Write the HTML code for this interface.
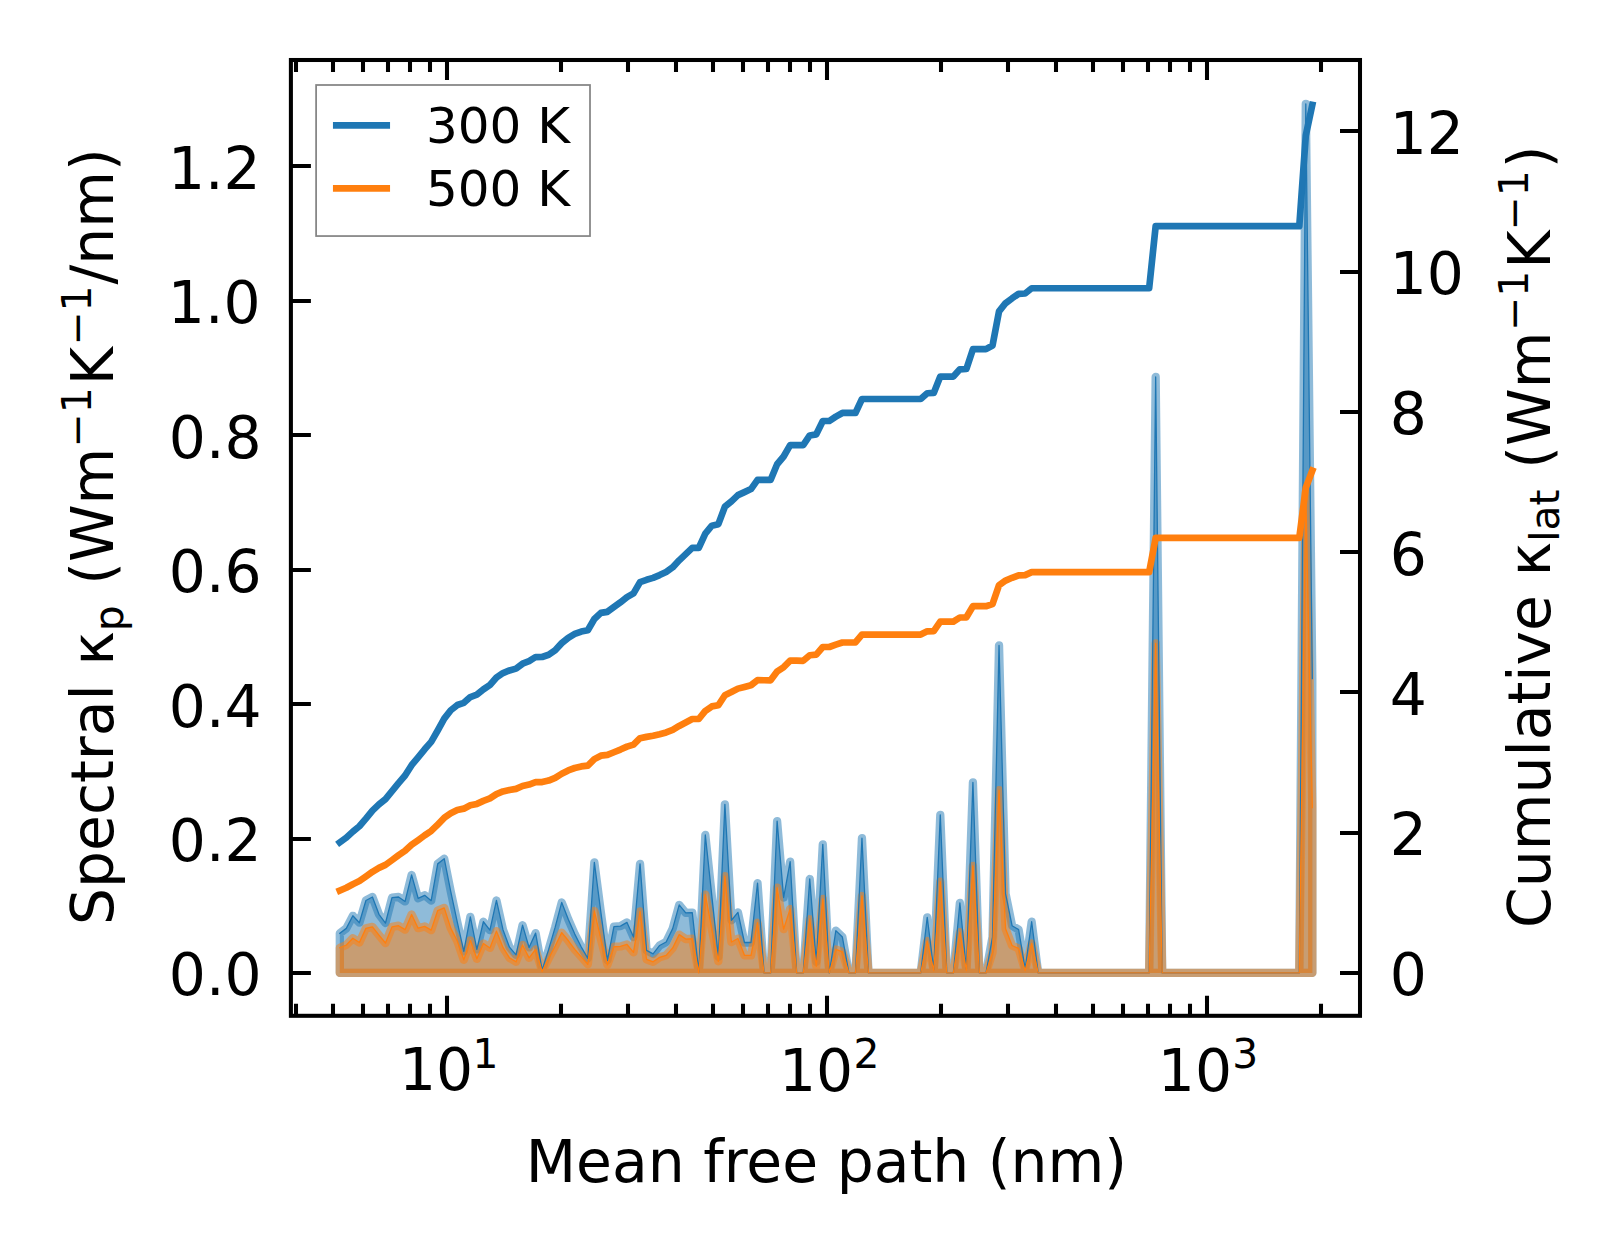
<!DOCTYPE html>
<html lang="en"><head><meta charset="utf-8"><title>Spectral and cumulative lattice thermal conductivity</title>
<style>html,body{margin:0;padding:0;background:#fff}svg{display:block}</style></head>
<body>
<svg width="1623" height="1254" viewBox="0 0 1623 1254" font-family="'DejaVu Sans', 'Liberation Sans', sans-serif" fill="#000">
<rect width="1623" height="1254" fill="#fff"/>
<g stroke-linejoin="round" stroke-linecap="square">
<polygon points="339.80,972.94 339.80,933.31 346.33,928.36 352.85,915.80 359.38,922.72 365.91,900.47 372.44,897.00 378.96,914.31 385.49,923.02 392.02,897.70 398.54,897.00 405.07,901.46 411.60,874.95 418.12,898.29 424.65,895.32 431.18,900.66 437.71,863.87 444.23,858.73 450.76,891.56 457.29,922.23 463.81,951.41 470.34,916.79 476.87,949.43 483.39,921.73 489.92,930.14 496.45,900.47 502.98,929.65 509.50,947.15 516.03,954.87 522.56,925.19 529.08,947.45 535.61,933.11 542.14,969.90 548.66,949.43 555.19,927.17 561.72,902.45 568.25,919.26 574.77,934.10 581.30,946.96 587.83,958.33 594.35,862.39 600.88,912.34 607.41,960.31 613.93,926.68 620.46,926.18 626.99,922.43 633.52,937.06 640.04,863.87 646.57,950.42 653.10,953.88 659.62,945.47 666.15,942.01 672.68,928.66 679.20,904.92 685.73,912.83 692.26,912.53 698.79,971.88 705.31,835.00 711.84,896.17 718.37,956.85 724.89,804.30 731.42,920.25 737.95,912.34 744.47,942.50 751.00,942.50 757.53,883.16 764.06,972.94 770.58,972.94 777.11,821.16 783.64,897.50 790.16,861.70 796.69,972.94 803.22,972.94 809.74,879.02 816.27,961.79 822.80,844.30 829.33,972.94 835.85,930.64 842.38,937.06 848.91,972.94 855.43,972.94 861.96,838.16 868.49,972.94 875.01,972.94 881.54,972.94 888.07,972.94 894.60,972.94 901.12,972.94 907.65,972.94 914.18,972.94 920.70,972.94 927.23,917.28 933.76,969.71 940.28,814.80 946.81,972.94 953.34,972.94 959.87,902.94 966.39,969.21 972.92,782.40 979.45,972.94 985.97,972.94 992.50,937.06 999.03,645.40 1005.55,893.54 1012.08,925.69 1018.61,929.65 1025.13,968.72 1031.66,921.73 1038.19,972.94 1044.72,972.94 1051.24,972.94 1057.77,972.94 1064.30,972.94 1070.82,972.94 1077.35,972.94 1083.88,972.94 1090.40,972.94 1096.93,972.94 1103.46,972.94 1109.99,972.94 1116.51,972.94 1123.04,972.94 1129.57,972.94 1136.09,972.94 1142.62,972.94 1149.15,972.94 1155.67,377.00 1162.20,972.94 1168.73,972.94 1175.26,972.94 1181.78,972.94 1188.31,972.94 1194.84,972.94 1201.36,972.94 1207.89,972.94 1214.42,972.94 1220.94,972.94 1227.47,972.94 1234.00,972.94 1240.53,972.94 1247.05,972.94 1253.58,972.94 1260.11,972.94 1266.63,972.94 1273.16,972.94 1279.69,972.94 1286.21,972.94 1292.74,972.94 1299.27,972.94 1305.80,103.80 1312.32,678.50 1312.32,972.94" fill="#1f77b4" fill-opacity="0.5" stroke="#1f77b4" stroke-opacity="0.5" stroke-width="8.3"/>
<polygon points="339.80,972.94 339.80,947.75 346.33,944.98 352.85,938.25 359.38,942.50 365.91,928.36 372.44,926.88 378.96,935.09 385.49,943.00 392.02,926.88 398.54,925.69 405.07,929.65 411.60,914.51 418.12,928.16 424.65,926.38 431.18,930.14 437.71,910.56 444.23,907.89 450.76,928.16 457.29,941.02 463.81,959.81 470.34,940.33 476.87,958.82 483.39,943.49 489.92,947.94 496.45,931.13 502.98,947.45 509.50,957.84 516.03,961.79 522.56,944.98 529.08,957.84 535.61,949.43 542.14,971.49 548.66,958.33 555.19,945.97 561.72,932.61 568.25,940.53 574.77,949.43 581.30,956.85 587.83,964.27 594.35,910.85 600.88,939.04 607.41,964.76 613.93,946.76 620.46,946.46 626.99,944.48 633.52,952.40 640.04,911.35 646.57,959.32 653.10,961.79 659.62,957.34 666.15,955.36 672.68,947.94 679.20,934.59 685.73,939.04 692.26,938.75 698.79,972.94 705.31,894.53 711.84,929.15 718.37,961.30 724.89,876.23 731.42,942.01 737.95,938.55 744.47,955.36 751.00,955.36 757.53,922.72 764.06,972.94 770.58,972.94 777.11,887.61 783.64,929.15 790.16,908.87 796.69,972.94 803.22,972.94 809.74,919.26 816.27,966.24 822.80,898.98 829.33,972.94 835.85,949.43 842.38,951.90 848.91,972.94 855.43,972.94 861.96,896.02 868.49,972.94 875.01,972.94 881.54,972.94 888.07,972.94 894.60,972.94 901.12,972.94 907.65,972.94 914.18,972.94 920.70,972.94 927.23,941.02 933.76,970.69 940.28,881.67 946.81,972.94 953.34,972.94 959.87,932.12 966.39,970.69 972.92,865.85 979.45,972.94 985.97,972.94 992.50,952.40 999.03,790.10 1005.55,928.66 1012.08,945.47 1018.61,948.44 1025.13,970.69 1031.66,943.49 1038.19,972.94 1044.72,972.94 1051.24,972.94 1057.77,972.94 1064.30,972.94 1070.82,972.94 1077.35,972.94 1083.88,972.94 1090.40,972.94 1096.93,972.94 1103.46,972.94 1109.99,972.94 1116.51,972.94 1123.04,972.94 1129.57,972.94 1136.09,972.94 1142.62,972.94 1149.15,972.94 1155.67,643.30 1162.20,972.94 1168.73,972.94 1175.26,972.94 1181.78,972.94 1188.31,972.94 1194.84,972.94 1201.36,972.94 1207.89,972.94 1214.42,972.94 1220.94,972.94 1227.47,972.94 1234.00,972.94 1240.53,972.94 1247.05,972.94 1253.58,972.94 1260.11,972.94 1266.63,972.94 1273.16,972.94 1279.69,972.94 1286.21,972.94 1292.74,972.94 1299.27,972.94 1305.80,492.00 1312.32,807.50 1312.32,972.94" fill="#ff7f0e" fill-opacity="0.5" stroke="#ff7f0e" stroke-opacity="0.5" stroke-width="8.3"/>
<polyline points="339.80,933.31 346.33,928.36 352.85,915.80 359.38,922.72 365.91,900.47 372.44,897.00 378.96,914.31 385.49,923.02 392.02,897.70 398.54,897.00 405.07,901.46 411.60,874.95 418.12,898.29 424.65,895.32 431.18,900.66 437.71,863.87 444.23,858.73 450.76,891.56 457.29,922.23 463.81,951.41 470.34,916.79 476.87,949.43 483.39,921.73 489.92,930.14 496.45,900.47 502.98,929.65 509.50,947.15 516.03,954.87 522.56,925.19 529.08,947.45 535.61,933.11 542.14,969.90 548.66,949.43 555.19,927.17 561.72,902.45 568.25,919.26 574.77,934.10 581.30,946.96 587.83,958.33 594.35,862.39 600.88,912.34 607.41,960.31 613.93,926.68 620.46,926.18 626.99,922.43 633.52,937.06 640.04,863.87 646.57,950.42 653.10,953.88 659.62,945.47 666.15,942.01 672.68,928.66 679.20,904.92 685.73,912.83 692.26,912.53 698.79,971.88 705.31,835.00 711.84,896.17 718.37,956.85 724.89,804.30 731.42,920.25 737.95,912.34 744.47,942.50 751.00,942.50 757.53,883.16 764.06,972.94 770.58,972.94 777.11,821.16 783.64,897.50 790.16,861.70 796.69,972.94 803.22,972.94 809.74,879.02 816.27,961.79 822.80,844.30 829.33,972.94 835.85,930.64 842.38,937.06 848.91,972.94 855.43,972.94 861.96,838.16 868.49,972.94 875.01,972.94 881.54,972.94 888.07,972.94 894.60,972.94 901.12,972.94 907.65,972.94 914.18,972.94 920.70,972.94 927.23,917.28 933.76,969.71 940.28,814.80 946.81,972.94 953.34,972.94 959.87,902.94 966.39,969.21 972.92,782.40 979.45,972.94 985.97,972.94 992.50,937.06 999.03,645.40 1005.55,893.54 1012.08,925.69 1018.61,929.65 1025.13,968.72 1031.66,921.73 1038.19,972.94 1044.72,972.94 1051.24,972.94 1057.77,972.94 1064.30,972.94 1070.82,972.94 1077.35,972.94 1083.88,972.94 1090.40,972.94 1096.93,972.94 1103.46,972.94 1109.99,972.94 1116.51,972.94 1123.04,972.94 1129.57,972.94 1136.09,972.94 1142.62,972.94 1149.15,972.94 1155.67,377.00 1162.20,972.94 1168.73,972.94 1175.26,972.94 1181.78,972.94 1188.31,972.94 1194.84,972.94 1201.36,972.94 1207.89,972.94 1214.42,972.94 1220.94,972.94 1227.47,972.94 1234.00,972.94 1240.53,972.94 1247.05,972.94 1253.58,972.94 1260.11,972.94 1266.63,972.94 1273.16,972.94 1279.69,972.94 1286.21,972.94 1292.74,972.94 1299.27,972.94 1305.80,103.80 1312.32,678.50" fill="none" stroke="#1f77b4" stroke-width="1.3"/>
<polyline points="339.80,947.75 346.33,944.98 352.85,938.25 359.38,942.50 365.91,928.36 372.44,926.88 378.96,935.09 385.49,943.00 392.02,926.88 398.54,925.69 405.07,929.65 411.60,914.51 418.12,928.16 424.65,926.38 431.18,930.14 437.71,910.56 444.23,907.89 450.76,928.16 457.29,941.02 463.81,959.81 470.34,940.33 476.87,958.82 483.39,943.49 489.92,947.94 496.45,931.13 502.98,947.45 509.50,957.84 516.03,961.79 522.56,944.98 529.08,957.84 535.61,949.43 542.14,971.49 548.66,958.33 555.19,945.97 561.72,932.61 568.25,940.53 574.77,949.43 581.30,956.85 587.83,964.27 594.35,910.85 600.88,939.04 607.41,964.76 613.93,946.76 620.46,946.46 626.99,944.48 633.52,952.40 640.04,911.35 646.57,959.32 653.10,961.79 659.62,957.34 666.15,955.36 672.68,947.94 679.20,934.59 685.73,939.04 692.26,938.75 698.79,972.94 705.31,894.53 711.84,929.15 718.37,961.30 724.89,876.23 731.42,942.01 737.95,938.55 744.47,955.36 751.00,955.36 757.53,922.72 764.06,972.94 770.58,972.94 777.11,887.61 783.64,929.15 790.16,908.87 796.69,972.94 803.22,972.94 809.74,919.26 816.27,966.24 822.80,898.98 829.33,972.94 835.85,949.43 842.38,951.90 848.91,972.94 855.43,972.94 861.96,896.02 868.49,972.94 875.01,972.94 881.54,972.94 888.07,972.94 894.60,972.94 901.12,972.94 907.65,972.94 914.18,972.94 920.70,972.94 927.23,941.02 933.76,970.69 940.28,881.67 946.81,972.94 953.34,972.94 959.87,932.12 966.39,970.69 972.92,865.85 979.45,972.94 985.97,972.94 992.50,952.40 999.03,790.10 1005.55,928.66 1012.08,945.47 1018.61,948.44 1025.13,970.69 1031.66,943.49 1038.19,972.94 1044.72,972.94 1051.24,972.94 1057.77,972.94 1064.30,972.94 1070.82,972.94 1077.35,972.94 1083.88,972.94 1090.40,972.94 1096.93,972.94 1103.46,972.94 1109.99,972.94 1116.51,972.94 1123.04,972.94 1129.57,972.94 1136.09,972.94 1142.62,972.94 1149.15,972.94 1155.67,643.30 1162.20,972.94 1168.73,972.94 1175.26,972.94 1181.78,972.94 1188.31,972.94 1194.84,972.94 1201.36,972.94 1207.89,972.94 1214.42,972.94 1220.94,972.94 1227.47,972.94 1234.00,972.94 1240.53,972.94 1247.05,972.94 1253.58,972.94 1260.11,972.94 1266.63,972.94 1273.16,972.94 1279.69,972.94 1286.21,972.94 1292.74,972.94 1299.27,972.94 1305.80,492.00 1312.32,807.50" fill="none" stroke="#ff7f0e" stroke-width="1.3"/>
<polyline points="339.80,842.40 346.33,837.65 352.85,831.59 359.38,826.25 365.91,818.60 372.44,810.58 378.96,804.36 385.49,799.06 392.02,791.11 398.54,783.09 405.07,775.53 411.60,765.21 418.12,757.33 424.65,749.30 431.18,741.83 437.71,730.52 444.23,718.67 450.76,710.25 457.29,705.03 463.81,702.85 470.34,697.06 476.87,694.67 483.39,689.40 489.92,685.00 496.45,677.51 502.98,673.06 509.50,670.44 516.03,668.62 522.56,663.71 529.08,661.12 535.61,657.03 542.14,656.97 548.66,654.76 555.19,650.24 561.72,643.14 568.25,637.79 574.77,633.98 581.30,631.52 587.83,630.25 594.35,618.97 600.88,612.89 607.41,611.83 613.93,607.07 620.46,602.26 626.99,597.06 633.52,593.38 640.04,582.07 646.57,579.79 653.10,577.87 659.62,575.07 666.15,571.91 672.68,567.36 679.20,560.34 685.73,554.13 692.26,547.90 698.79,547.86 705.31,533.60 711.84,525.72 718.37,524.17 724.89,506.71 731.42,501.35 737.95,495.15 744.47,492.11 751.00,489.07 757.53,479.83 764.06,479.89 770.58,479.96 777.11,464.25 783.64,456.51 790.16,445.04 796.69,445.10 803.22,445.17 809.74,435.44 816.27,434.34 822.80,420.99 829.33,420.99 835.85,416.65 842.38,412.97 848.91,412.97 855.43,412.97 861.96,398.98 868.49,398.98 875.01,398.98 881.54,398.98 888.07,398.98 894.60,398.98 901.12,398.98 907.65,398.98 914.18,398.98 920.70,398.98 927.23,393.24 933.76,392.97 940.28,376.54 946.81,376.54 953.34,376.54 959.87,369.31 966.39,368.99 972.92,349.18 979.45,349.18 985.97,349.18 992.50,345.51 999.03,311.41 1005.55,303.19 1012.08,298.33 1018.61,293.88 1025.13,293.51 1031.66,288.24 1038.19,288.24 1044.72,288.24 1051.24,288.24 1057.77,288.24 1064.30,288.24 1070.82,288.24 1077.35,288.24 1083.88,288.24 1090.40,288.24 1096.93,288.24 1103.46,288.24 1109.99,288.24 1116.51,288.24 1123.04,288.24 1129.57,288.24 1136.09,288.24 1142.62,288.24 1149.15,288.24 1155.67,226.14 1162.20,226.14 1168.73,226.14 1175.26,226.14 1181.78,226.14 1188.31,226.14 1194.84,226.14 1201.36,226.14 1207.89,226.14 1214.42,226.14 1220.94,226.14 1227.47,226.14 1234.00,226.14 1240.53,226.14 1247.05,226.14 1253.58,226.14 1260.11,226.14 1266.63,226.14 1273.16,226.14 1279.69,226.14 1286.21,226.14 1292.74,226.14 1299.27,226.14 1305.80,135.55 1312.32,104.90" fill="none" stroke="#1f77b4" stroke-width="6.7"/>
<polyline points="339.80,890.60 346.33,887.75 352.85,884.20 359.38,881.09 365.91,876.51 372.44,871.77 378.96,867.89 385.49,864.84 392.02,860.10 398.54,855.24 405.07,850.79 411.60,844.76 418.12,840.16 424.65,835.37 431.18,830.98 437.71,824.54 444.23,817.82 450.76,813.21 457.29,809.95 463.81,808.65 470.34,805.32 476.87,803.91 483.39,800.91 489.92,798.37 496.45,794.08 502.98,791.48 509.50,789.98 516.03,788.88 522.56,786.03 529.08,784.53 535.61,782.14 542.14,782.06 548.66,780.60 555.19,777.85 561.72,773.72 568.25,770.40 574.77,768.02 581.30,766.41 587.83,765.57 594.35,759.16 600.88,755.69 607.41,754.91 613.93,752.24 620.46,749.55 626.99,746.65 633.52,744.57 640.04,738.22 646.57,736.86 653.10,735.77 659.62,734.21 666.15,732.44 672.68,729.90 679.20,725.97 685.73,722.50 692.26,719.00 698.79,719.00 705.31,710.89 711.84,706.39 718.37,705.25 724.89,695.23 731.42,692.07 737.95,688.63 744.47,686.95 751.00,685.26 757.53,680.17 764.06,680.26 770.58,680.34 777.11,671.59 783.64,667.17 790.16,660.63 796.69,660.72 803.22,660.80 809.74,655.27 816.27,654.64 822.80,646.99 829.33,646.99 835.85,644.61 842.38,642.49 848.91,642.49 855.43,642.49 861.96,634.53 868.49,634.53 875.01,634.54 881.54,634.54 888.07,634.54 894.60,634.54 901.12,634.54 907.65,634.54 914.18,634.54 920.70,634.54 927.23,631.28 933.76,631.12 940.28,621.67 946.81,621.67 953.34,621.67 959.87,617.48 966.39,617.32 972.92,606.21 979.45,606.22 985.97,606.22 992.50,604.14 999.03,585.14 1005.55,580.59 1012.08,577.79 1018.61,575.31 1025.13,575.14 1031.66,572.14 1038.19,572.14 1044.72,572.14 1051.24,572.14 1057.77,572.14 1064.30,572.15 1070.82,572.15 1077.35,572.15 1083.88,572.15 1090.40,572.15 1096.93,572.15 1103.46,572.15 1109.99,572.15 1116.51,572.16 1123.04,572.16 1129.57,572.16 1136.09,572.16 1142.62,572.16 1149.15,572.16 1155.67,537.85 1162.20,537.85 1168.73,537.85 1175.26,537.85 1181.78,537.85 1188.31,537.85 1194.84,537.85 1201.36,537.85 1207.89,537.86 1214.42,537.86 1220.94,537.86 1227.47,537.86 1234.00,537.86 1240.53,537.86 1247.05,537.86 1253.58,537.86 1260.11,537.87 1266.63,537.87 1273.16,537.87 1279.69,537.87 1286.21,537.87 1292.74,537.87 1299.27,537.87 1305.80,487.77 1312.32,470.59" fill="none" stroke="#ff7f0e" stroke-width="6.7"/>
</g>
<path d="M296 1015.8v-12.0M296 60.0v12.0M333 1015.8v-12.0M333 60.0v12.0M363 1015.8v-12.0M363 60.0v12.0M388 1015.8v-12.0M388 60.0v12.0M410 1015.8v-12.0M410 60.0v12.0M430 1015.8v-12.0M430 60.0v12.0M447 1015.8v-20.0M447 60.0v20.0M561 1015.8v-12.0M561 60.0v12.0M628 1015.8v-12.0M628 60.0v12.0M676 1015.8v-12.0M676 60.0v12.0M713 1015.8v-12.0M713 60.0v12.0M743 1015.8v-12.0M743 60.0v12.0M768 1015.8v-12.0M768 60.0v12.0M790 1015.8v-12.0M790 60.0v12.0M810 1015.8v-12.0M810 60.0v12.0M827 1015.8v-20.0M827 60.0v20.0M941 1015.8v-12.0M941 60.0v12.0M1008 1015.8v-12.0M1008 60.0v12.0M1056 1015.8v-12.0M1056 60.0v12.0M1093 1015.8v-12.0M1093 60.0v12.0M1123 1015.8v-12.0M1123 60.0v12.0M1148 1015.8v-12.0M1148 60.0v12.0M1170 1015.8v-12.0M1170 60.0v12.0M1190 1015.8v-12.0M1190 60.0v12.0M1207 1015.8v-20.0M1207 60.0v20.0M1321 1015.8v-12.0M1321 60.0v12.0M290.9 973h20.0M290.9 839h20.0M290.9 704h20.0M290.9 570h20.0M290.9 435h20.0M290.9 301h20.0M290.9 166h20.0M1360.0 973h-20.0M1360.0 833h-20.0M1360.0 692h-20.0M1360.0 552h-20.0M1360.0 412h-20.0M1360.0 272h-20.0M1360.0 131h-20.0" stroke="#000" stroke-width="4.05" fill="none"/>
<rect x="290.9" y="60.0" width="1069.1" height="955.8" fill="none" stroke="#000" stroke-width="4.05" stroke-linejoin="miter"/>
<g font-size="58.33px">
<text x="261.6" y="995.0" text-anchor="end">0.0</text>
<text x="261.6" y="860.9" text-anchor="end">0.2</text>
<text x="261.6" y="726.5" text-anchor="end">0.4</text>
<text x="261.6" y="591.9" text-anchor="end">0.6</text>
<text x="261.6" y="457.8" text-anchor="end">0.8</text>
<text x="260.6" y="322.9" text-anchor="end">1.0</text>
<text x="260.7" y="189.0" text-anchor="end">1.2</text>
<text x="1389.7" y="995.1">0</text>
<text x="1389.7" y="855.1">2</text>
<text x="1389.7" y="714.8">4</text>
<text x="1389.7" y="574.5">6</text>
<text x="1389.7" y="434.2">8</text>
<text x="1389.7" y="293.9">10</text>
<text x="1389.7" y="153.9">12</text>
<text x="399.00" y="1090.2">10</text>
<text x="472.62" y="1067.6" font-size="40.83px">1</text>
<text x="778.90" y="1090.7">10</text>
<text x="853.42" y="1067.6" font-size="40.83px">2</text>
<text x="1157.80" y="1090.8">10</text>
<text x="1232.32" y="1067.6" font-size="40.83px">3</text>
<text x="826.4" y="1182.2" text-anchor="middle">Mean free path (nm)</text>
</g>
<text transform="translate(113.30,925.00) rotate(-90)" font-size="58.33px">Spectral</text>
<text transform="translate(113.30,665.65) rotate(-90)" font-size="58.33px">κ</text>
<text transform="translate(122.70,631.27) rotate(-90)" font-size="40.83px">p</text>
<text transform="translate(113.30,584.81) rotate(-90)" font-size="58.33px">(Wm</text>
<text transform="translate(91.30,447.56) rotate(-90)" font-size="40.83px">−1</text>
<text transform="translate(113.30,385.37) rotate(-90)" font-size="58.33px">K</text>
<text transform="translate(91.30,345.62) rotate(-90)" font-size="40.83px">−1</text>
<text transform="translate(113.30,284.43) rotate(-90)" font-size="58.33px">/nm)</text>
<text transform="translate(1550.00,928.00) rotate(-90)" font-size="58.33px">Cumulative</text>
<text transform="translate(1550.00,576.54) rotate(-90)" font-size="58.33px">κ</text>
<text transform="translate(1559.40,541.86) rotate(-90)" font-size="40.83px">lat</text>
<text transform="translate(1550.00,468.75) rotate(-90)" font-size="58.33px">(Wm</text>
<text transform="translate(1528.00,330.99) rotate(-90)" font-size="40.83px">−1</text>
<text transform="translate(1550.00,268.80) rotate(-90)" font-size="58.33px">K</text>
<text transform="translate(1528.00,230.55) rotate(-90)" font-size="40.83px">−1</text>
<text transform="translate(1550.00,168.36) rotate(-90)" font-size="58.33px">)</text>
<rect x="316.1" y="85.0" width="273.9" height="151.05" fill="#fff" fill-opacity="0.8" stroke="#858585" stroke-width="1.75"/>
<path d="M336.3 125.45H386.7" stroke="#1f77b4" stroke-width="6.7" stroke-linecap="square"/>
<path d="M336.3 188.45H386.7" stroke="#ff7f0e" stroke-width="6.7" stroke-linecap="square"/>
<text x="426.0" y="143.0" font-size="50.0px">300 K</text>
<text x="426.0" y="205.9" font-size="50.0px">500 K</text>
</svg>
</body></html>
